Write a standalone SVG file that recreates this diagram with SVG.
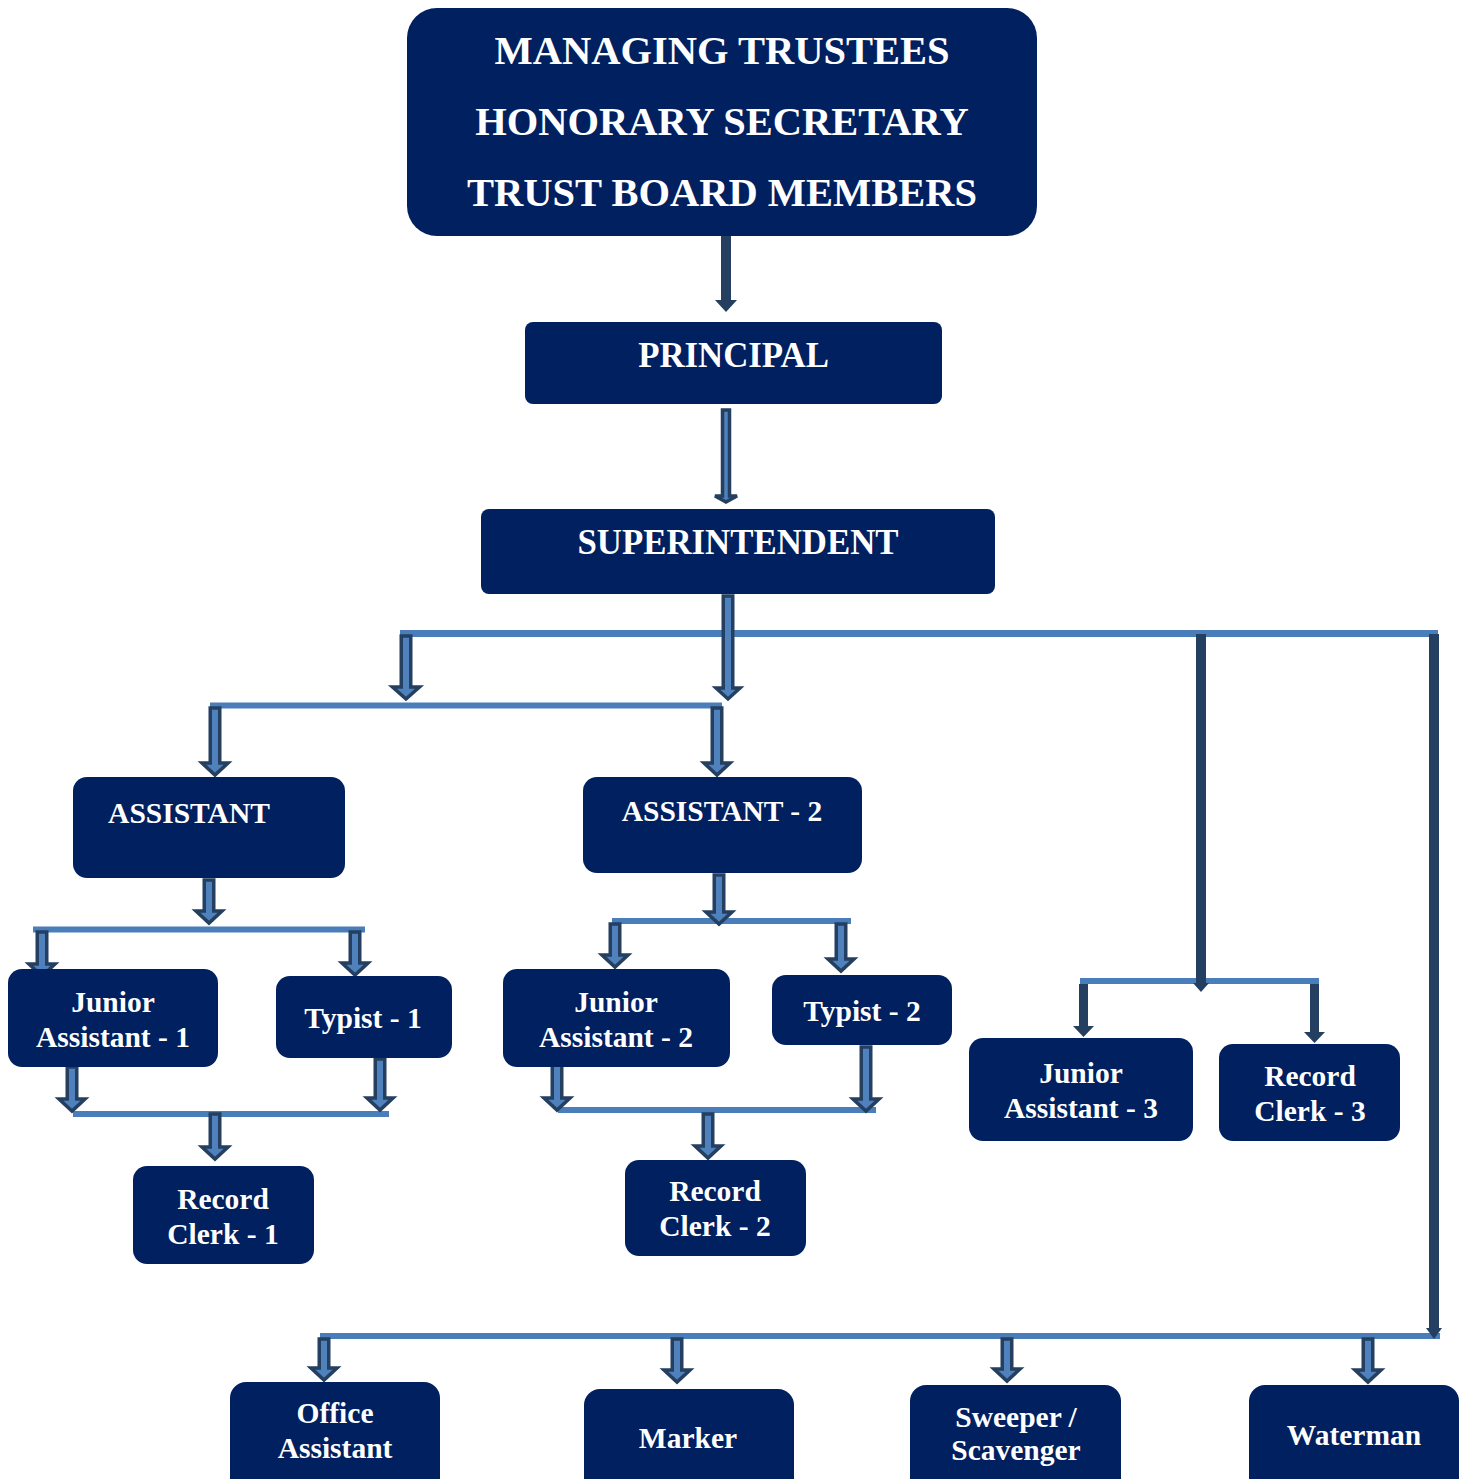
<svg xmlns="http://www.w3.org/2000/svg" width="1465" height="1479" viewBox="0 0 1465 1479">
<style>
.box{fill:#002060}
.t{font-family:"Liberation Serif","Times New Roman",serif;font-weight:bold;fill:#ffffff;text-anchor:middle}
.big{font-size:40.5px}
.mid{font-size:34.8px}
.sm{font-size:29.5px}
.ln{stroke:#4A7EBB;fill:none}
.blk{fill:#4F81BD;stroke:#243F60;stroke-width:3.5;stroke-linejoin:miter}
.thin{fill:#4F81BD;stroke:#243F60;stroke-width:3.5}
.dk{fill:#243F60}
</style>
<rect width="1465" height="1479" fill="#ffffff"/>
<g id="connectors">
<path class="ln" stroke-width="7" d="M400 633.5H1438"/>
<path class="ln" stroke-width="6" d="M210 705.5H722"/>
<path class="ln" stroke-width="6" d="M33 929.5H365"/>
<path class="ln" stroke-width="6" d="M73 1114H389"/>
<path class="ln" stroke-width="6" d="M612 921H851"/>
<path class="ln" stroke-width="6" d="M558 1110H876"/>
<path class="ln" stroke-width="6" d="M1080 981H1319"/>
<path class="ln" stroke-width="6" d="M320 1336H1440"/>
<path class="dk" d="M721 236H731V300H737L726 312L715 300H721Z"/>
<path class="dk" d="M1196 634H1206V983H1209L1201 992L1193 983H1196Z"/>
<path class="dk" d="M1429 634H1439V1328H1442L1434 1339L1426 1328H1429Z"/>
<path class="dk" d="M1079 984H1088V1026H1094L1083.5 1037L1073 1026H1079Z"/>
<path class="dk" d="M1310 984H1319V1032H1325L1314.5 1043L1304 1032H1310Z"/>
<path class="thin" d="M722.5 410H729.5V496H737L726 502L715 496H722.5Z"/>
<path class="blk" d="M401.25 636H410.75V687H419.5L406 699L392.5 687H401.25Z"/>
<path class="blk" d="M723.25 596H732.75V688H740L728 699L716 688H723.25Z"/>
<path class="blk" d="M210.25 708H219.75V763H228L215 775L202 763H210.25Z"/>
<path class="blk" d="M712.25 708H721.75V763H730L717 775L704 763H712.25Z"/>
<path class="blk" d="M204.25 880H213.75V911H222L209 923L196 911H204.25Z"/>
<path class="blk" d="M37.25 932H46.75V964H55L42 976L29 964H37.25Z"/>
<path class="blk" d="M350.25 932H359.75V963H368L355 975L342 963H350.25Z"/>
<path class="blk" d="M67.25 1067H76.75V1099H85L72 1111L59 1099H67.25Z"/>
<path class="blk" d="M375.25 1059H384.75V1098H393L380 1110L367 1098H375.25Z"/>
<path class="blk" d="M210.25 1114H219.75V1147H228L215 1159L202 1147H210.25Z"/>
<path class="blk" d="M714.25 875H723.75V912H732L719 924L706 912H714.25Z"/>
<path class="blk" d="M610.25 924H619.75V955H628L615 967L602 955H610.25Z"/>
<path class="blk" d="M836.25 924H845.75V959H854L841 971L828 959H836.25Z"/>
<path class="blk" d="M552.25 1064H561.75V1098H570L557 1110L544 1098H552.25Z"/>
<path class="blk" d="M861.25 1047H870.75V1099H879L866 1111L853 1099H861.25Z"/>
<path class="blk" d="M703.25 1114H712.75V1146H721L708 1158L695 1146H703.25Z"/>
<path class="blk" d="M319.25 1339H328.75V1368H337L324 1380L311 1368H319.25Z"/>
<path class="blk" d="M672.25 1339H681.75V1370H690L677 1382L664 1370H672.25Z"/>
<path class="blk" d="M1002.25 1339H1011.75V1369H1020L1007 1381L994 1369H1002.25Z"/>
<path class="blk" d="M1363.25 1339H1372.75V1370H1381L1368 1382L1355 1370H1363.25Z"/>
</g>
<g id="n-trustees"><rect class="box" x="407" y="8" width="630" height="228" rx="30"/>
<text class="t big" x="722" y="64">MANAGING TRUSTEES</text>
<text class="t big" x="722" y="135">HONORARY SECRETARY</text>
<text class="t big" x="722" y="206">TRUST BOARD MEMBERS</text></g>
<g id="n-principal"><rect class="box" x="525" y="322" width="417" height="82" rx="8"/>
<text class="t mid" x="733.5" y="367">PRINCIPAL</text></g>
<g id="n-superintendent"><rect class="box" x="481" y="509" width="514" height="85" rx="8"/>
<text class="t mid" x="738" y="554">SUPERINTENDENT</text></g>
<g id="n-assistant"><rect class="box" x="73" y="777" width="272" height="101" rx="14"/>
<text class="t sm" x="189" y="823">ASSISTANT</text></g>
<g id="n-assistant2"><rect class="box" x="583" y="777" width="279" height="96" rx="14"/>
<text class="t sm" x="722" y="821">ASSISTANT - 2</text></g>
<g id="n-ja1"><rect class="box" x="8" y="969" width="210" height="98" rx="14"/>
<text class="t sm" x="113" y="1012">Junior</text><text class="t sm" x="113" y="1047">Assistant - 1</text></g>
<g id="n-typist1"><rect class="box" x="276" y="976" width="176" height="82" rx="14"/>
<text class="t sm" x="363" y="1028">Typist - 1</text></g>
<g id="n-rc1"><rect class="box" x="133" y="1166" width="181" height="98" rx="14"/>
<text class="t sm" x="223" y="1209">Record</text><text class="t sm" x="223" y="1244">Clerk - 1</text></g>
<g id="n-ja2"><rect class="box" x="503" y="969" width="227" height="98" rx="14"/>
<text class="t sm" x="616" y="1012">Junior</text><text class="t sm" x="616" y="1047">Assistant - 2</text></g>
<g id="n-typist2"><rect class="box" x="772" y="975" width="180" height="70" rx="14"/>
<text class="t sm" x="862" y="1021">Typist - 2</text></g>
<g id="n-rc2"><rect class="box" x="625" y="1160" width="181" height="96" rx="14"/>
<text class="t sm" x="715" y="1201">Record</text><text class="t sm" x="715" y="1236">Clerk - 2</text></g>
<g id="n-ja3"><rect class="box" x="969" y="1038" width="224" height="103" rx="14"/>
<text class="t sm" x="1081" y="1083">Junior</text><text class="t sm" x="1081" y="1118">Assistant - 3</text></g>
<g id="n-rc3"><rect class="box" x="1219" y="1044" width="181" height="97" rx="14"/>
<text class="t sm" x="1310" y="1086">Record</text><text class="t sm" x="1310" y="1121">Clerk - 3</text></g>
<g id="n-office"><rect class="box" x="230" y="1382" width="210" height="115" rx="16"/>
<text class="t sm" x="335" y="1423">Office</text><text class="t sm" x="335" y="1458">Assistant</text></g>
<g id="n-marker"><rect class="box" x="584" y="1389" width="210" height="110" rx="16"/>
<text class="t sm" x="688" y="1448">Marker</text></g>
<g id="n-sweeper"><rect class="box" x="910" y="1385" width="211" height="110" rx="16"/>
<text class="t sm" x="1016" y="1427">Sweeper /</text><text class="t sm" x="1016" y="1460">Scavenger</text></g>
<g id="n-waterman"><rect class="box" x="1249" y="1385" width="210" height="110" rx="16"/>
<text class="t sm" x="1354" y="1445">Waterman</text></g>
</svg>
